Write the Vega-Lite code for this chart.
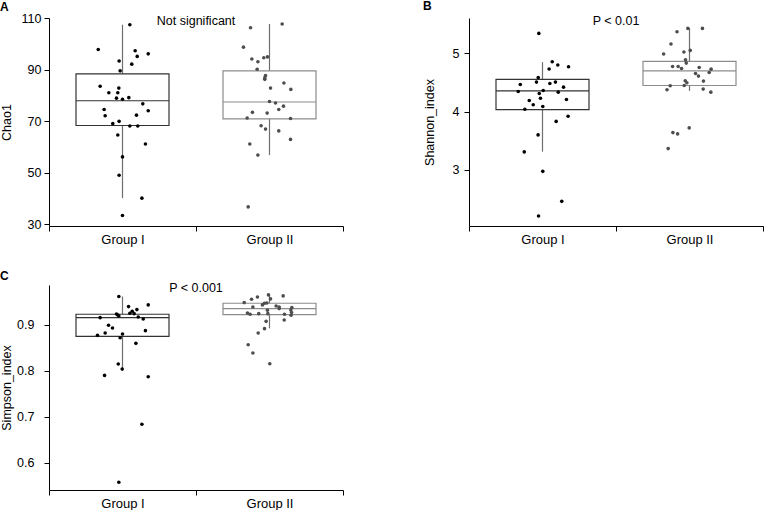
{
  "$schema": "https://vega.github.io/schema/vega-lite/v6.json",
  "padding": {"left": 0, "top": 0, "right": 0, "bottom": 0},
  "datasets": {
    "pts": [
      {"metric":"Chao1","group":"Group I","value":107.4,"jitter":0.05},
      {"metric":"Chao1","group":"Group I","value":97.8,"jitter":-0.165},
      {"metric":"Chao1","group":"Group I","value":97.3,"jitter":0.086},
      {"metric":"Chao1","group":"Group I","value":96.1,"jitter":0.175},
      {"metric":"Chao1","group":"Group I","value":95.1,"jitter":0.1},
      {"metric":"Chao1","group":"Group I","value":93.3,"jitter":-0.023},
      {"metric":"Chao1","group":"Group I","value":92.1,"jitter":0.063},
      {"metric":"Chao1","group":"Group I","value":89.5,"jitter":-0.016},
      {"metric":"Chao1","group":"Group I","value":83.5,"jitter":-0.152},
      {"metric":"Chao1","group":"Group I","value":82.8,"jitter":-0.025},
      {"metric":"Chao1","group":"Group I","value":81.0,"jitter":-0.093},
      {"metric":"Chao1","group":"Group I","value":81.0,"jitter":-0.032},
      {"metric":"Chao1","group":"Group I","value":78.9,"jitter":-0.041},
      {"metric":"Chao1","group":"Group I","value":78.5,"jitter":0.0},
      {"metric":"Chao1","group":"Group I","value":79.1,"jitter":0.043},
      {"metric":"Chao1","group":"Group I","value":76.7,"jitter":0.138},
      {"metric":"Chao1","group":"Group I","value":74.5,"jitter":-0.125},
      {"metric":"Chao1","group":"Group I","value":74.0,"jitter":0.175},
      {"metric":"Chao1","group":"Group I","value":72.1,"jitter":-0.118},
      {"metric":"Chao1","group":"Group I","value":72.3,"jitter":0.095},
      {"metric":"Chao1","group":"Group I","value":69.9,"jitter":-0.023},
      {"metric":"Chao1","group":"Group I","value":69.0,"jitter":-0.066},
      {"metric":"Chao1","group":"Group I","value":68.1,"jitter":0.05},
      {"metric":"Chao1","group":"Group I","value":68.1,"jitter":0.104},
      {"metric":"Chao1","group":"Group I","value":64.6,"jitter":-0.032},
      {"metric":"Chao1","group":"Group I","value":61.1,"jitter":0.156},
      {"metric":"Chao1","group":"Group I","value":56.1,"jitter":0.0},
      {"metric":"Chao1","group":"Group I","value":49.0,"jitter":-0.023},
      {"metric":"Chao1","group":"Group I","value":40.1,"jitter":0.132},
      {"metric":"Chao1","group":"Group I","value":33.4,"jitter":0.0},
      {"metric":"Chao1","group":"Group II","value":106.2,"jitter":-0.129},
      {"metric":"Chao1","group":"Group II","value":107.7,"jitter":0.086},
      {"metric":"Chao1","group":"Group II","value":98.7,"jitter":-0.177},
      {"metric":"Chao1","group":"Group II","value":94.1,"jitter":-0.12},
      {"metric":"Chao1","group":"Group II","value":93.0,"jitter":-0.079},
      {"metric":"Chao1","group":"Group II","value":94.6,"jitter":-0.039},
      {"metric":"Chao1","group":"Group II","value":94.9,"jitter":-0.014},
      {"metric":"Chao1","group":"Group II","value":90.1,"jitter":-0.084},
      {"metric":"Chao1","group":"Group II","value":87.7,"jitter":-0.027},
      {"metric":"Chao1","group":"Group II","value":86.8,"jitter":-0.032},
      {"metric":"Chao1","group":"Group II","value":86.2,"jitter":-0.032},
      {"metric":"Chao1","group":"Group II","value":84.8,"jitter":0.098},
      {"metric":"Chao1","group":"Group II","value":82.8,"jitter":0.007},
      {"metric":"Chao1","group":"Group II","value":82.3,"jitter":0.145},
      {"metric":"Chao1","group":"Group II","value":77.6,"jitter":0.0},
      {"metric":"Chao1","group":"Group II","value":77.0,"jitter":0.041},
      {"metric":"Chao1","group":"Group II","value":75.8,"jitter":0.095},
      {"metric":"Chao1","group":"Group II","value":74.5,"jitter":0.063},
      {"metric":"Chao1","group":"Group II","value":73.4,"jitter":-0.116},
      {"metric":"Chao1","group":"Group II","value":73.1,"jitter":-0.016},
      {"metric":"Chao1","group":"Group II","value":71.2,"jitter":-0.152},
      {"metric":"Chao1","group":"Group II","value":71.0,"jitter":0.143},
      {"metric":"Chao1","group":"Group II","value":68.2,"jitter":-0.057},
      {"metric":"Chao1","group":"Group II","value":66.9,"jitter":-0.027},
      {"metric":"Chao1","group":"Group II","value":66.2,"jitter":0.063},
      {"metric":"Chao1","group":"Group II","value":62.9,"jitter":0.143},
      {"metric":"Chao1","group":"Group II","value":61.1,"jitter":-0.134},
      {"metric":"Chao1","group":"Group II","value":56.8,"jitter":-0.079},
      {"metric":"Chao1","group":"Group II","value":36.7,"jitter":-0.145},
      {"metric":"Shannon","group":"Group I","value":5.345,"jitter":-0.025},
      {"metric":"Shannon","group":"Group I","value":4.857,"jitter":0.066},
      {"metric":"Shannon","group":"Group I","value":4.8,"jitter":0.104},
      {"metric":"Shannon","group":"Group I","value":4.771,"jitter":0.177},
      {"metric":"Shannon","group":"Group I","value":4.731,"jitter":0.045},
      {"metric":"Shannon","group":"Group I","value":4.586,"jitter":-0.029},
      {"metric":"Shannon","group":"Group I","value":4.466,"jitter":-0.151},
      {"metric":"Shannon","group":"Group I","value":4.507,"jitter":-0.041},
      {"metric":"Shannon","group":"Group I","value":4.483,"jitter":0.05},
      {"metric":"Shannon","group":"Group I","value":4.507,"jitter":0.088},
      {"metric":"Shannon","group":"Group I","value":4.42,"jitter":0.143},
      {"metric":"Shannon","group":"Group I","value":4.345,"jitter":-0.165},
      {"metric":"Shannon","group":"Group I","value":4.362,"jitter":0.005},
      {"metric":"Shannon","group":"Group I","value":4.334,"jitter":0.107},
      {"metric":"Shannon","group":"Group I","value":4.31,"jitter":-0.022},
      {"metric":"Shannon","group":"Group I","value":4.23,"jitter":-0.014},
      {"metric":"Shannon","group":"Group I","value":4.19,"jitter":-0.09},
      {"metric":"Shannon","group":"Group I","value":4.207,"jitter":0.163},
      {"metric":"Shannon","group":"Group I","value":4.116,"jitter":-0.063},
      {"metric":"Shannon","group":"Group I","value":4.04,"jitter":-0.12},
      {"metric":"Shannon","group":"Group I","value":4.086,"jitter":0.002},
      {"metric":"Shannon","group":"Group I","value":3.83,"jitter":0.093},
      {"metric":"Shannon","group":"Group I","value":3.92,"jitter":0.174},
      {"metric":"Shannon","group":"Group I","value":3.598,"jitter":-0.03},
      {"metric":"Shannon","group":"Group I","value":3.305,"jitter":-0.124},
      {"metric":"Shannon","group":"Group I","value":2.971,"jitter":0.002},
      {"metric":"Shannon","group":"Group I","value":2.454,"jitter":0.131},
      {"metric":"Shannon","group":"Group I","value":2.201,"jitter":-0.027},
      {"metric":"Shannon","group":"Group II","value":5.431,"jitter":-0.011},
      {"metric":"Shannon","group":"Group II","value":5.431,"jitter":0.088},
      {"metric":"Shannon","group":"Group II","value":5.374,"jitter":-0.085},
      {"metric":"Shannon","group":"Group II","value":5.162,"jitter":-0.126},
      {"metric":"Shannon","group":"Group II","value":4.99,"jitter":-0.176},
      {"metric":"Shannon","group":"Group II","value":5.024,"jitter":-0.038},
      {"metric":"Shannon","group":"Group II","value":5.052,"jitter":0.005},
      {"metric":"Shannon","group":"Group II","value":4.89,"jitter":-0.027},
      {"metric":"Shannon","group":"Group II","value":4.834,"jitter":-0.022},
      {"metric":"Shannon","group":"Group II","value":4.776,"jitter":-0.115},
      {"metric":"Shannon","group":"Group II","value":4.776,"jitter":-0.077},
      {"metric":"Shannon","group":"Group II","value":4.741,"jitter":-0.054},
      {"metric":"Shannon","group":"Group II","value":4.759,"jitter":0.066},
      {"metric":"Shannon","group":"Group II","value":4.73,"jitter":0.147},
      {"metric":"Shannon","group":"Group II","value":4.672,"jitter":0.134},
      {"metric":"Shannon","group":"Group II","value":4.655,"jitter":0.041},
      {"metric":"Shannon","group":"Group II","value":4.61,"jitter":0.061},
      {"metric":"Shannon","group":"Group II","value":4.529,"jitter":-0.029},
      {"metric":"Shannon","group":"Group II","value":4.495,"jitter":-0.018},
      {"metric":"Shannon","group":"Group II","value":4.524,"jitter":0.095},
      {"metric":"Shannon","group":"Group II","value":4.443,"jitter":-0.131},
      {"metric":"Shannon","group":"Group II","value":4.449,"jitter":-0.036},
      {"metric":"Shannon","group":"Group II","value":4.374,"jitter":-0.153},
      {"metric":"Shannon","group":"Group II","value":4.386,"jitter":0.093},
      {"metric":"Shannon","group":"Group II","value":4.334,"jitter":0.145},
      {"metric":"Shannon","group":"Group II","value":3.638,"jitter":-0.113},
      {"metric":"Shannon","group":"Group II","value":3.615,"jitter":-0.081},
      {"metric":"Shannon","group":"Group II","value":3.718,"jitter":-0.002},
      {"metric":"Shannon","group":"Group II","value":3.362,"jitter":-0.145},
      {"metric":"Simpson","group":"Group I","value":0.9609,"jitter":-0.025},
      {"metric":"Simpson","group":"Group I","value":0.9428,"jitter":0.175},
      {"metric":"Simpson","group":"Group I","value":0.9391,"jitter":0.041},
      {"metric":"Simpson","group":"Group I","value":0.9326,"jitter":0.098},
      {"metric":"Simpson","group":"Group I","value":0.929,"jitter":0.066},
      {"metric":"Simpson","group":"Group I","value":0.9246,"jitter":0.05},
      {"metric":"Simpson","group":"Group I","value":0.9239,"jitter":0.079},
      {"metric":"Simpson","group":"Group I","value":0.9232,"jitter":-0.041},
      {"metric":"Simpson","group":"Group I","value":0.921,"jitter":-0.032},
      {"metric":"Simpson","group":"Group I","value":0.9188,"jitter":-0.025},
      {"metric":"Simpson","group":"Group I","value":0.9167,"jitter":0.107},
      {"metric":"Simpson","group":"Group I","value":0.9152,"jitter":-0.152},
      {"metric":"Simpson","group":"Group I","value":0.9123,"jitter":0.141},
      {"metric":"Simpson","group":"Group I","value":0.8986,"jitter":-0.095},
      {"metric":"Simpson","group":"Group I","value":0.8928,"jitter":-0.068},
      {"metric":"Simpson","group":"Group I","value":0.887,"jitter":0.156},
      {"metric":"Simpson","group":"Group I","value":0.8819,"jitter":-0.118},
      {"metric":"Simpson","group":"Group I","value":0.8768,"jitter":-0.17},
      {"metric":"Simpson","group":"Group I","value":0.8797,"jitter":0.0},
      {"metric":"Simpson","group":"Group I","value":0.8717,"jitter":-0.016},
      {"metric":"Simpson","group":"Group I","value":0.8594,"jitter":0.091},
      {"metric":"Simpson","group":"Group I","value":0.8145,"jitter":-0.029},
      {"metric":"Simpson","group":"Group I","value":0.8036,"jitter":-0.002},
      {"metric":"Simpson","group":"Group I","value":0.7899,"jitter":-0.122},
      {"metric":"Simpson","group":"Group I","value":0.787,"jitter":0.175},
      {"metric":"Simpson","group":"Group I","value":0.684,"jitter":0.132},
      {"metric":"Simpson","group":"Group I","value":0.558,"jitter":-0.025},
      {"metric":"Simpson","group":"Group II","value":0.9645,"jitter":-0.007},
      {"metric":"Simpson","group":"Group II","value":0.9623,"jitter":0.093},
      {"metric":"Simpson","group":"Group II","value":0.9601,"jitter":-0.082},
      {"metric":"Simpson","group":"Group II","value":0.9551,"jitter":-0.122},
      {"metric":"Simpson","group":"Group II","value":0.9558,"jitter":0.007},
      {"metric":"Simpson","group":"Group II","value":0.9478,"jitter":-0.172},
      {"metric":"Simpson","group":"Group II","value":0.9471,"jitter":-0.018},
      {"metric":"Simpson","group":"Group II","value":0.9464,"jitter":-0.034},
      {"metric":"Simpson","group":"Group II","value":0.9428,"jitter":-0.048},
      {"metric":"Simpson","group":"Group II","value":0.9406,"jitter":0.045},
      {"metric":"Simpson","group":"Group II","value":0.9384,"jitter":-0.113},
      {"metric":"Simpson","group":"Group II","value":0.9384,"jitter":0.066},
      {"metric":"Simpson","group":"Group II","value":0.9348,"jitter":0.066},
      {"metric":"Simpson","group":"Group II","value":0.937,"jitter":0.152},
      {"metric":"Simpson","group":"Group II","value":0.9312,"jitter":-0.014},
      {"metric":"Simpson","group":"Group II","value":0.9319,"jitter":0.145},
      {"metric":"Simpson","group":"Group II","value":0.9261,"jitter":0.15},
      {"metric":"Simpson","group":"Group II","value":0.9254,"jitter":-0.15},
      {"metric":"Simpson","group":"Group II","value":0.9239,"jitter":-0.073},
      {"metric":"Simpson","group":"Group II","value":0.9225,"jitter":-0.132},
      {"metric":"Simpson","group":"Group II","value":0.9239,"jitter":-0.011},
      {"metric":"Simpson","group":"Group II","value":0.9225,"jitter":0.102},
      {"metric":"Simpson","group":"Group II","value":0.9203,"jitter":0.147},
      {"metric":"Simpson","group":"Group II","value":0.9101,"jitter":0.1},
      {"metric":"Simpson","group":"Group II","value":0.9072,"jitter":-0.023},
      {"metric":"Simpson","group":"Group II","value":0.8913,"jitter":-0.034},
      {"metric":"Simpson","group":"Group II","value":0.8819,"jitter":-0.077},
      {"metric":"Simpson","group":"Group II","value":0.8565,"jitter":-0.145},
      {"metric":"Simpson","group":"Group II","value":0.8384,"jitter":-0.113},
      {"metric":"Simpson","group":"Group II","value":0.8152,"jitter":0.002}
    ],
    "box": [
      {"metric":"Chao1","group":"Group I","lo":40.1,"q1":68.3,"med":77.9,"q3":88.3,"hi":107.4},
      {"metric":"Chao1","group":"Group II","lo":56.8,"q1":70.9,"med":77.4,"q3":89.5,"hi":107.7},
      {"metric":"Shannon","group":"Group I","lo":3.31,"q1":4.034,"med":4.356,"q3":4.552,"hi":4.85},
      {"metric":"Shannon","group":"Group II","lo":4.356,"q1":4.448,"med":4.701,"q3":4.862,"hi":5.437},
      {"metric":"Simpson","group":"Group I","lo":0.8014,"q1":0.8746,"med":0.9152,"q3":0.9225,"hi":0.961},
      {"metric":"Simpson","group":"Group II","lo":0.892,"q1":0.9217,"med":0.9348,"q3":0.9464,"hi":0.9645}
    ],
    "notes": [
      {"metric":"Chao1","label":"Not significant"},
      {"metric":"Shannon","label":"P < 0.01"},
      {"metric":"Simpson","label":"P < 0.001"}
    ]
  },
  "columns": 2,
  "bounds": "flush",
  "spacing": {"row": 59, "column": 126},
  "resolve": {"scale": {"x": "independent", "y": "independent"}},
  "concat": [
    {
      "title": {"text": "A", "offset": -2},
      "width": 294,
      "height": 208,
      "layer": [
        {
          "data": {"name": "box"},
          "transform": [{"filter": "datum.metric === 'Chao1'"}],
          "mark": {"type": "rule", "color": "#6e6e6e", "strokeWidth": 1.2},
          "encoding": {
            "x": {"field": "group", "type": "nominal", "scale": {"domain": ["Group I", "Group II"], "paddingInner": 0, "paddingOuter": 0}, "axis": {"title": null, "labelAngle": 0, "tickBand": "extent", "tickSize": 5, "labelPadding": 2, "labelFontSize": 13}},
            "y": {"field": "lo", "type": "quantitative", "scale": {"domain": [29.3, 110], "nice": false, "zero": false}, "axis": {"title": "Chao1", "values": [30, 50, 70, 90, 110], "tickSize": 5, "labelPadding": 3, "titlePadding": 8}},
            "y2": {"field": "hi"}
          }
        },
        {
          "data": {"name": "box"},
          "transform": [{"filter": "datum.metric === 'Chao1'"}],
          "mark": {"type": "bar", "size": 93, "fill": "white", "strokeWidth": 1.2},
          "encoding": {
            "x": {"field": "group", "type": "nominal"},
            "y": {"field": "q1", "type": "quantitative"},
            "y2": {"field": "q3"},
            "stroke": {"field": "group", "type": "nominal", "scale": {"domain": ["Group I", "Group II"], "range": ["#333333", "#8c8c8c"]}, "legend": null}
          }
        },
        {
          "data": {"name": "box"},
          "transform": [{"filter": "datum.metric === 'Chao1'"}],
          "mark": {"type": "bar", "size": 93, "fill": "white", "strokeWidth": 1.2},
          "encoding": {
            "x": {"field": "group", "type": "nominal"},
            "y": {"field": "med", "type": "quantitative"},
            "y2": {"field": "med"},
            "stroke": {"field": "group", "type": "nominal", "legend": null}
          }
        },
        {
          "data": {"name": "pts"},
          "transform": [{"filter": "datum.metric === 'Chao1'"}],
          "mark": {"type": "circle", "size": 13, "opacity": 1},
          "encoding": {
            "x": {"field": "group", "type": "nominal"},
            "xOffset": {"field": "jitter", "type": "quantitative", "scale": {"domain": [-0.5, 0.5], "range": [0, 147]}},
            "y": {"field": "value", "type": "quantitative"},
            "color": {"field": "group", "type": "nominal", "scale": {"domain": ["Group I", "Group II"], "range": ["#000000", "#4d4d4d"]}, "legend": null}
          }
        },
        {
          "data": {"name": "notes"},
          "transform": [{"filter": "datum.metric === 'Chao1'"}],
          "mark": {"type": "text", "fontSize": 12.5, "color": "#000000", "align": "center", "baseline": "middle"},
          "encoding": {
            "x": {"datum": "Group I", "bandPosition": 1},
            "y": {"datum": 108.7},
            "text": {"field": "label"}
          }
        }
      ]
    },
    {
      "title": {"text": "B", "offset": 2},
      "width": 294,
      "height": 208,
      "layer": [
        {
          "data": {"name": "box"},
          "transform": [{"filter": "datum.metric === 'Shannon'"}],
          "mark": {"type": "rule", "color": "#6e6e6e", "strokeWidth": 1.2},
          "encoding": {
            "x": {"field": "group", "type": "nominal", "scale": {"domain": ["Group I", "Group II"], "paddingInner": 0, "paddingOuter": 0}, "axis": {"title": null, "labelAngle": 0, "tickBand": "extent", "tickSize": 5, "labelPadding": 2, "labelFontSize": 13}},
            "y": {"field": "lo", "type": "quantitative", "scale": {"domain": [2.03, 5.61], "nice": false, "zero": false}, "axis": {"title": "Shannon_index", "values": [3, 4, 5], "format": "d", "tickSize": 5, "labelPadding": 5, "titlePadding": 16}},
            "y2": {"field": "hi"}
          }
        },
        {
          "data": {"name": "box"},
          "transform": [{"filter": "datum.metric === 'Shannon'"}],
          "mark": {"type": "bar", "size": 93, "fill": "white", "strokeWidth": 1.2},
          "encoding": {
            "x": {"field": "group", "type": "nominal"},
            "y": {"field": "q1", "type": "quantitative"},
            "y2": {"field": "q3"},
            "stroke": {"field": "group", "type": "nominal", "scale": {"domain": ["Group I", "Group II"], "range": ["#333333", "#8c8c8c"]}, "legend": null}
          }
        },
        {
          "data": {"name": "box"},
          "transform": [{"filter": "datum.metric === 'Shannon'"}],
          "mark": {"type": "bar", "size": 93, "fill": "white", "strokeWidth": 1.2},
          "encoding": {
            "x": {"field": "group", "type": "nominal"},
            "y": {"field": "med", "type": "quantitative"},
            "y2": {"field": "med"},
            "stroke": {"field": "group", "type": "nominal", "legend": null}
          }
        },
        {
          "data": {"name": "pts"},
          "transform": [{"filter": "datum.metric === 'Shannon'"}],
          "mark": {"type": "circle", "size": 13, "opacity": 1},
          "encoding": {
            "x": {"field": "group", "type": "nominal"},
            "xOffset": {"field": "jitter", "type": "quantitative", "scale": {"domain": [-0.5, 0.5], "range": [0, 147]}},
            "y": {"field": "value", "type": "quantitative"},
            "color": {"field": "group", "type": "nominal", "scale": {"domain": ["Group I", "Group II"], "range": ["#000000", "#4d4d4d"]}, "legend": null}
          }
        },
        {
          "data": {"name": "notes"},
          "transform": [{"filter": "datum.metric === 'Shannon'"}],
          "mark": {"type": "text", "fontSize": 12.5, "color": "#000000", "align": "center", "baseline": "middle"},
          "encoding": {
            "x": {"datum": "Group I", "bandPosition": 1},
            "y": {"datum": 5.55},
            "text": {"field": "label"}
          }
        }
      ]
    },
    {
      "title": {"text": "C", "offset": -1.5},
      "width": 294,
      "height": 205,
      "layer": [
        {
          "data": {"name": "box"},
          "transform": [{"filter": "datum.metric === 'Simpson'"}],
          "mark": {"type": "rule", "color": "#6e6e6e", "strokeWidth": 1.2},
          "encoding": {
            "x": {"field": "group", "type": "nominal", "scale": {"domain": ["Group I", "Group II"], "paddingInner": 0, "paddingOuter": 0}, "axis": {"title": null, "labelAngle": 0, "tickBand": "extent", "tickSize": 5, "labelPadding": 2, "labelFontSize": 13}},
            "y": {"field": "lo", "type": "quantitative", "scale": {"domain": [0.5413, 0.986], "nice": false, "zero": false}, "axis": {"title": "Simpson_index", "values": [0.6, 0.7, 0.8, 0.9], "format": ".1f", "tickSize": 5, "labelPadding": 10, "titlePadding": 3.5}},
            "y2": {"field": "hi"}
          }
        },
        {
          "data": {"name": "box"},
          "transform": [{"filter": "datum.metric === 'Simpson'"}],
          "mark": {"type": "bar", "size": 93, "fill": "white", "strokeWidth": 1.2},
          "encoding": {
            "x": {"field": "group", "type": "nominal"},
            "y": {"field": "q1", "type": "quantitative"},
            "y2": {"field": "q3"},
            "stroke": {"field": "group", "type": "nominal", "scale": {"domain": ["Group I", "Group II"], "range": ["#333333", "#8c8c8c"]}, "legend": null}
          }
        },
        {
          "data": {"name": "box"},
          "transform": [{"filter": "datum.metric === 'Simpson'"}],
          "mark": {"type": "bar", "size": 93, "fill": "white", "strokeWidth": 1.2},
          "encoding": {
            "x": {"field": "group", "type": "nominal"},
            "y": {"field": "med", "type": "quantitative"},
            "y2": {"field": "med"},
            "stroke": {"field": "group", "type": "nominal", "legend": null}
          }
        },
        {
          "data": {"name": "pts"},
          "transform": [{"filter": "datum.metric === 'Simpson'"}],
          "mark": {"type": "circle", "size": 13, "opacity": 1},
          "encoding": {
            "x": {"field": "group", "type": "nominal"},
            "xOffset": {"field": "jitter", "type": "quantitative", "scale": {"domain": [-0.5, 0.5], "range": [0, 147]}},
            "y": {"field": "value", "type": "quantitative"},
            "color": {"field": "group", "type": "nominal", "scale": {"domain": ["Group I", "Group II"], "range": ["#000000", "#4d4d4d"]}, "legend": null}
          }
        },
        {
          "data": {"name": "notes"},
          "transform": [{"filter": "datum.metric === 'Simpson'"}],
          "mark": {"type": "text", "fontSize": 12.5, "color": "#000000", "align": "center", "baseline": "middle"},
          "encoding": {
            "x": {"datum": "Group I", "bandPosition": 1},
            "y": {"datum": 0.98},
            "text": {"field": "label"}
          }
        }
      ]
    }
  ],
  "config": {
    "font": "Liberation Sans",
    "view": {"stroke": null},
    "title": {"anchor": "start", "frame": "bounds", "fontSize": 12, "fontWeight": "bold", "font": "Liberation Sans", "color": "#000000"},
    "axis": {
      "grid": false,
      "domainColor": "#000000",
      "tickColor": "#000000",
      "labelColor": "#000000",
      "titleColor": "#000000",
      "labelFont": "Liberation Sans",
      "titleFont": "Liberation Sans",
      "labelFontSize": 12.5,
      "titleFontSize": 12.5,
      "titleFontWeight": "normal",
      "domainWidth": 1,
      "tickWidth": 1
    }
  }
}
